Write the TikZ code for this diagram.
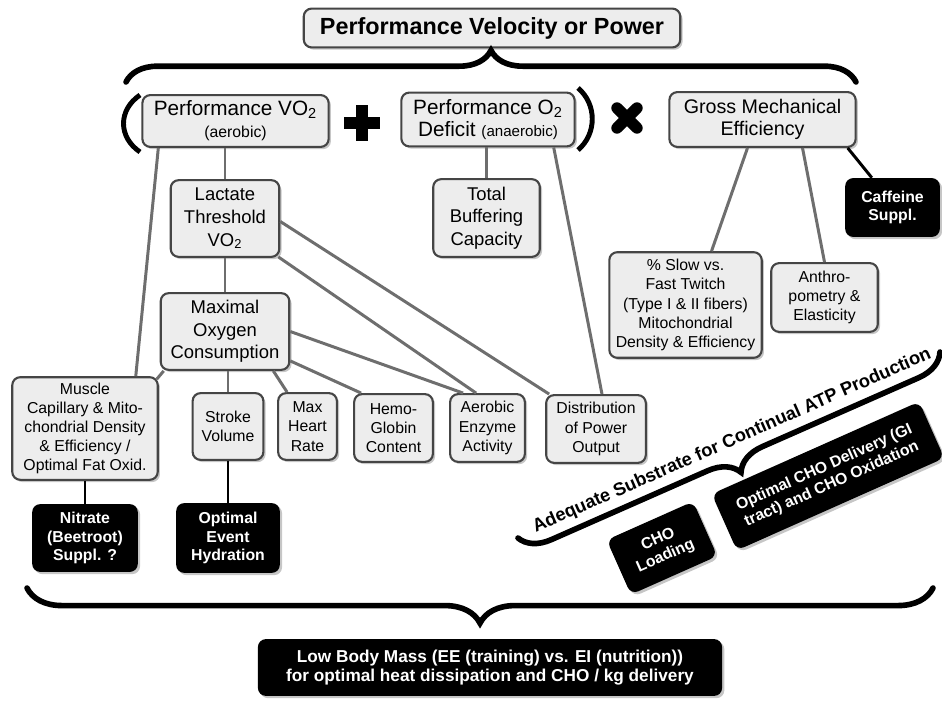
\documentclass[tikz,border=0pt]{standalone}
\usepackage{fontspec}
\setmainfont{Liberation Sans}
\usetikzlibrary{shadows,decorations.pathreplacing}

\definecolor{boxfill}{HTML}{EDEDED}
\definecolor{boxline}{HTML}{454545}
\definecolor{linkgrey}{HTML}{6E6E6E}
\newcommand{\pxu}{0.5669pt}

\begin{document}
\begin{tikzpicture}[x=0.02cm, y=-0.02cm,
    wh/.style 2 args={minimum width=#1*\pxu, minimum height=#2*\pxu},
    factor/.style={
      draw=boxline, fill=boxfill, line width=1.2pt,
      rounded corners=4.5pt, align=center, inner sep=1pt,
      drop shadow={shadow xshift=1.3pt, shadow yshift=-1.3pt, opacity=.45}},
    helper/.style={
      fill=black, text=white, rounded corners=4.5pt, align=center, inner sep=1pt,
      font=\bfseries\fontsize{9}{10.4}\selectfont,
      drop shadow={shadow xshift=1.3pt, shadow yshift=-1.3pt, opacity=.45}},
    link/.style={draw=linkgrey, line width=1.7pt},
    blacklink/.style={draw=black, line width=1.7pt},
    bigbrace/.style={decorate, line width=3.2pt, line cap=round},
    ftitle/.style={font=\bfseries\fontsize{13.3}{15}\selectfont},
    fbig/.style={font=\fontsize{11.8}{12.6}\selectfont},
    fmid/.style={font=\fontsize{10.5}{12.9}\selectfont},
    fsmall/.style={font=\fontsize{9}{10.9}\selectfont}
  ]

  \useasboundingbox (0,0) rectangle (942,700);

  % top row
  \node[factor, ftitle, wh={378}{39}] (velocity) at (492,28) {Performance Velocity or Power};
  \node[factor, fbig, wh={187}{52}] (aerobic) at (235.5,121)
    {Performance VO\textsubscript{2}\\{\fontsize{9}{10}\selectfont (aerobic)}};
  \node[factor, fbig, wh={174}{54}] (anaerobic) at (488,119.5)
    {Performance O\textsubscript{2}\\Deficit {\fontsize{8.6}{10}\selectfont (anaerobic)}};
  \node[factor, font=\fontsize{11.2}{12.6}\selectfont, wh={187}{55}] (efficiency) at (762.5,119.5)
    {Gross Mechanical\\Efficiency};
  \node[helper, wh={95}{59}] (caffeine) at (892.5,207.5) {Caffeine\\Suppl.};

  % middle
  \node[factor, fmid, wh={109}{77}] (lactate) at (225,218.5) {Lactate\\Threshold\\VO\textsubscript{2}};
  \node[factor, fmid, wh={107}{78}] (buffering) at (486.5,218) {Total\\Buffering\\Capacity};
  \node[factor, fmid, wh={129}{77}] (maxox) at (225,331.5) {Maximal\\Oxygen\\Consumption};
  \node[factor, fsmall, wh={153}{106}] (fibres) at (685.5,305)
    {\% Slow vs.\\Fast Twitch\\(Type I \& II fibers)\\Mitochondrial\\Density \& Efficiency};
  \node[factor, fsmall, wh={107}{69}] (anthro) at (824.5,297.5) {Anthro-\\pometry \&\\Elasticity};

  % lower row
  \node[factor, fsmall, wh={146}{103}] (muscle) at (85,428.5)
    {Muscle\\Capillary \& Mito-\\chondrial Density\\\& Efficiency /\\Optimal Fat Oxid.};
  \node[factor, fsmall, wh={71}{67}] (stroke) at (228,426.5) {Stroke\\Volume};
  \node[factor, fsmall, wh={59}{67}] (heart) at (307.5,426.5) {Max\\Heart\\Rate};
  \node[factor, fsmall, wh={79}{68}] (hemo) at (393.5,428) {Hemo-\\Globin\\Content};
  \node[factor, fsmall, wh={75}{68}] (enzyme) at (487.5,428) {Aerobic\\Enzyme\\Activity};
  \node[factor, fsmall, wh={100}{68}] (distribution) at (596,429) {Distribution\\of Power\\Output};

  \node[helper, wh={106}{68}] (nitrate) at (85,538) {Nitrate\\(Beetroot)\\Suppl. ?};
  \node[helper, wh={104}{70}] (hydration) at (228,538) {Optimal\\Event\\Hydration};

  \node[helper, wh={95}{60}, rotate=24] (choload) at (662,548) {CHO\\Loading};
  \node[helper, wh={228}{62}, rotate=24] (chodelivery) at (828,476)
    {Optimal CHO Delivery (GI\\tract) and CHO Oxidation};

  \node[helper, wh={466}{57}, font=\bfseries\fontsize{9.8}{10.6}\selectfont] (bodymass) at (490,667.5)
    {Low Body Mass (EE (training) vs. EI (nutrition))\\for optimal heat dissipation and CHO / kg delivery};

  % brackets and operators
  \draw[line width=2.8pt] (140,95) .. controls (118,110) and (118,137) .. (140,152);
  \draw[line width=2.8pt] (578,88) .. controls (597,104) and (597,134) .. (578,150);
  \draw[line width=6.8pt] (362,105) -- (362,141) (344,123) -- (380,123);
  \draw[line width=6.5pt, line cap=round] (617,108) -- (637,128) (637,108) -- (617,128);

  % braces
  \coordinate (topL) at (126,82);
  \coordinate (topR) at (856,82);
  \coordinate (lowL) at (27,588);
  \coordinate (lowR) at (933,588);
  \coordinate (atpL) at (518,538);
  \coordinate (atpR) at (940,352);
  \draw[bigbrace, decoration={brace, amplitude=18pt}] (topL) -- (topR);
  \draw[bigbrace, decoration={brace, mirror, amplitude=20pt}] (lowL) -- (lowR);
  \draw[bigbrace, decoration={brace, mirror, amplitude=17pt}] (atpL) -- (atpR);
  \node[rotate=23.8, font=\bfseries\fontsize{10.4}{12}\selectfont] (atp) at (732,441)
    {Adequate Substrate for Continual ATP Production};

  % links
  \path[link]
    (aerobic.south -| lactate.north) edge (lactate.north)
    ([shift={(17,0)}]aerobic.south west) edge ([shift={(-23,0)}]muscle.north east)
    (lactate.south) edge (maxox.north)
    ([shift={(0,3)}]lactate.east) edge ([shift={(4,0)}]distribution.north west)
    ([shift={(-2,-1)}]lactate.south east) edge ([shift={(27,0)}]enzyme.north west)
    (maxox.east) edge ([shift={(14,0)}]enzyme.north west)
    ([shift={(0,-10)}]maxox.south east) edge ([shift={(8,0)}]hemo.north west)
    ([shift={(-17,0)}]maxox.south east) edge ([shift={(10,0)}]heart.north west)
    (maxox.south -| stroke.north) edge (stroke.north)
    ([shift={(4,0)}]maxox.south west) edge ([shift={(-2,3)}]muscle.north east)
    (anaerobic.south -| buffering.north) edge (buffering.north)
    ([shift={(-22,0)}]anaerobic.south east) edge ([shift={(6,0)}]distribution.north)
    ([shift={(-15,0)}]efficiency.south) edge ([shift={(26,0)}]fibres.north)
    ([shift={(40,0)}]efficiency.south) edge (anthro.north);
  \path[blacklink]
    ([shift={(-9,0)}]efficiency.south east) edge ([shift={(27,0)}]caffeine.north west)
    (muscle.south) edge (nitrate.north)
    (stroke.south) edge (hydration.north);

\end{tikzpicture}
\end{document}
